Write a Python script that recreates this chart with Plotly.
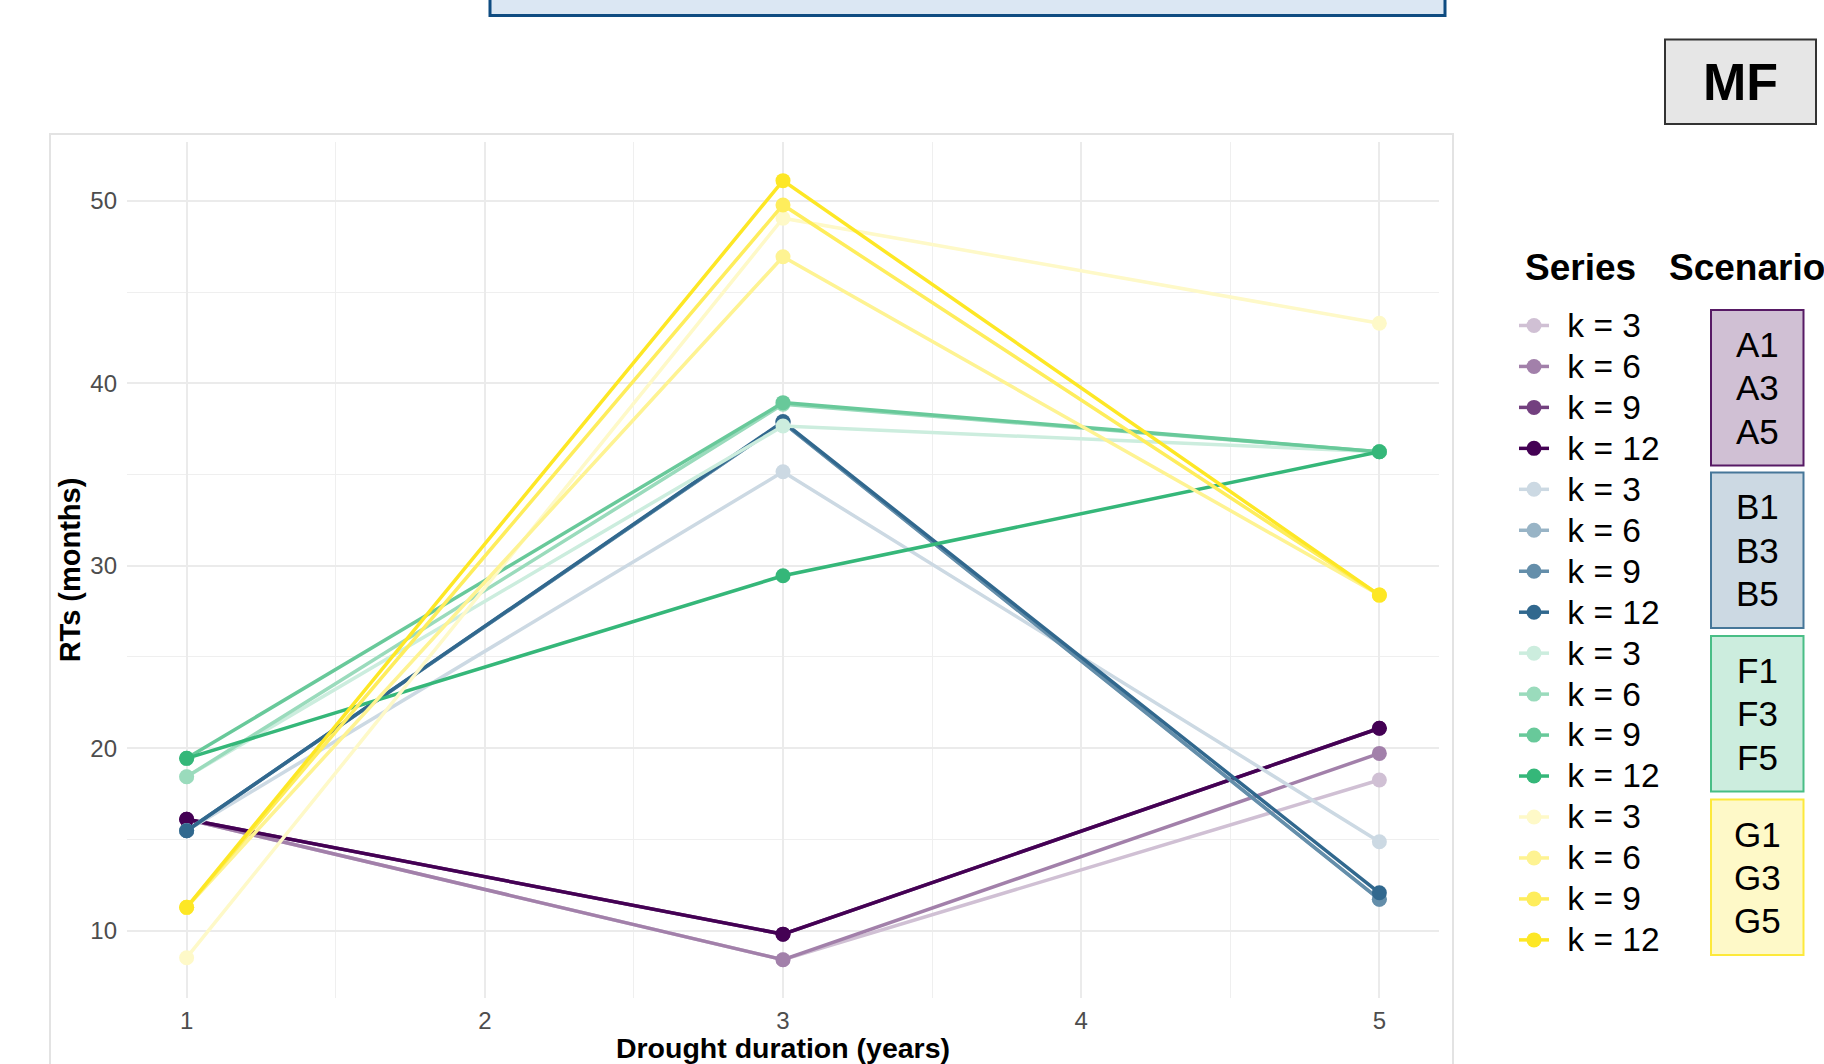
import plotly.graph_objects as go

# ---------------- data ----------------
durations = [1, 3, 5]
scenario_groups = ["A", "B", "F", "G"]
k_labels = ["k = 3", "k = 6", "k = 9", "k = 12"]
scenario_box_labels = {"A": ["A1", "A3", "A5"], "B": ["B1", "B3", "B5"],
                       "F": ["F1", "F3", "F5"], "G": ["G1", "G3", "G5"]}

rt_A3 = [16.10, 8.40, 18.25]
rt_A6 = [16.10, 8.40, 19.71]
rt_A9 = [16.10, 9.80, 21.09]
rt_A12 = [16.10, 9.80, 21.09]

rt_B3 = [15.47, 35.15, 14.87]
rt_B6 = [15.47, 37.85, 11.71]
rt_B9 = [15.47, 37.85, 11.71]
rt_B12 = [15.47, 37.90, 12.07]

rt_F3 = [18.43, 37.66, 36.25]
rt_F6 = [18.43, 38.85, 36.25]
rt_F9 = [19.44, 38.94, 36.25]
rt_F12 = [19.44, 29.45, 36.25]

rt_G3 = [8.51, 49.05, 43.29]
rt_G6 = [11.27, 46.94, 28.39]
rt_G9 = [11.27, 49.78, 28.39]
rt_G12 = [11.27, 51.11, 28.39]

series_values = {
    "A": [rt_A3, rt_A6, rt_A9, rt_A12],
    "B": [rt_B3, rt_B6, rt_B9, rt_B12],
    "F": [rt_F3, rt_F6, rt_F9, rt_F12],
    "G": [rt_G3, rt_G6, rt_G9, rt_G12],
}

# ---------------- styles ----------------
base_rgb = {"A": (68, 1, 84), "B": (49, 104, 142), "F": (53, 183, 121), "G": (253, 231, 37)}
alphas = [0.25, 0.5, 0.75, 1.0]


def blend(rgb, a):
    r, g, b = (round(a * c + (1 - a) * 255) for c in rgb)
    return f"rgb({r},{g},{b})"


FONT = "Liberation Sans, Arial, Helvetica, sans-serif"
W, H = 1824, 1064
L, R, T, B = 127, 385, 142, 66
PW, PH = W - L - R, H - T - B


def px_x(x):
    return (x - L) / PW


def px_y(y):
    return 1 - (y - T) / PH


def label(x, y, text, size, xanchor="center"):
    return dict(xref="paper", yref="paper", x=px_x(x), y=px_y(y), text=text,
                showarrow=False, xanchor=xanchor, yanchor="middle",
                font=dict(family=FONT, size=size, color="black"))


fig = go.Figure()
for g in scenario_groups:
    for i, vals in enumerate(series_values[g]):
        col = blend(base_rgb[g], alphas[i])
        fig.add_trace(go.Scatter(
            x=durations, y=vals, mode="lines+markers",
            name=('<span style="font-size:48px">&nbsp;</span>'
                  f'<span style="font-size:33.5px">{k_labels[i]}</span>'),
            line=dict(color=col, width=3.5),
            marker=dict(color=col, size=15),
        ))

shapes = []
annotations = []

# outer panel border
shapes.append(dict(type="rect", xref="paper", yref="paper", layer="below",
                   x0=px_x(50), x1=px_x(1453), y0=px_y(1090), y1=px_y(134),
                   line=dict(color="#e3e3e3", width=2), fillcolor="rgba(0,0,0,0)"))
# cropped title box at top
shapes.append(dict(type="rect", xref="paper", yref="paper",
                   x0=px_x(490), x1=px_x(1445), y0=px_y(15.5), y1=px_y(-10),
                   line=dict(color="#0f4c81", width=3), fillcolor="#dbe7f3"))
# MF box
shapes.append(dict(type="rect", xref="paper", yref="paper",
                   x0=px_x(1665), x1=px_x(1816), y0=px_y(124), y1=px_y(39.5),
                   line=dict(color="#333333", width=2), fillcolor="#e6e6e6"))
annotations.append(label(1740, 82, "<b>MF</b>", 52))

# legend headers
annotations.append(label(1580, 267, "<b>Series</b>", 37))
annotations.append(label(1667, 267, "<b>Scenario</b>", 37, xanchor="left"))

# scenario boxes
box_tops = [310, 472.5, 636, 799.5]
box_h = 155.5
for gi, g in enumerate(scenario_groups):
    top = box_tops[gi]
    shapes.append(dict(type="rect", xref="paper", yref="paper",
                       x0=px_x(1711), x1=px_x(1803.5), y0=px_y(top + box_h), y1=px_y(top),
                       line=dict(color=blend(base_rgb[g], 0.9), width=2),
                       fillcolor=blend(base_rgb[g], 0.25)))
    for li, lab in enumerate(scenario_box_labels[g]):
        annotations.append(label(1757, top + 34.5 + li * 43.3, lab, 35))

fig.update_layout(
    width=W, height=H,
    margin=dict(l=L, r=R, t=T, b=B, autoexpand=False),
    paper_bgcolor="white", plot_bgcolor="white",
    font=dict(family=FONT),
    showlegend=True,
    legend=dict(x=px_x(1514), y=px_y(300), xanchor="left", yanchor="top",
                font=dict(family=FONT, size=29.2, color="black"),
                itemwidth=30, bgcolor="rgba(0,0,0,0)", borderwidth=0),
    shapes=shapes, annotations=annotations,
    xaxis=dict(range=[0.8, 5.2], tick0=1, dtick=1, showgrid=True,
               gridcolor="#ebebeb", gridwidth=1.5, zeroline=False, showline=False,
               ticks="", ticklabelstandoff=6,
               tickfont=dict(family=FONT, size=24, color="#4d4d4d"),
               minor=dict(dtick=0.5, showgrid=True, gridcolor="#efefef", gridwidth=1.2),
               title=dict(text="Drought duration (years)", standoff=14,
                          font=dict(family=FONT, size=28.5, color="black", weight="bold")),
               automargin=False),
    yaxis=dict(range=[6.3, 53.23], tick0=0, dtick=10, showgrid=True,
               gridcolor="#ebebeb", gridwidth=1.5, zeroline=False, showline=False,
               ticks="", ticklabelstandoff=9,
               tickfont=dict(family=FONT, size=24, color="#4d4d4d"),
               minor=dict(dtick=5, showgrid=True, gridcolor="#efefef", gridwidth=1.2),
               title=dict(text="RTs (months)", standoff=1,
                          font=dict(family=FONT, size=29, color="black", weight="bold")),
               automargin=False),
)

fig.write_html("out.html", config={"displayModeBar": False},
               post_script="document.body.style.margin='0px';")
